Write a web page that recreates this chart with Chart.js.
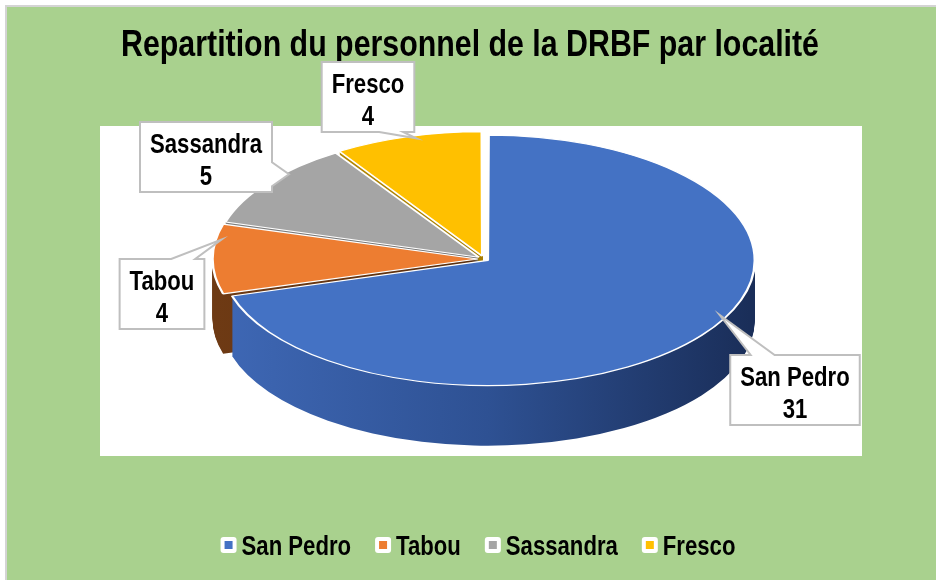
<!DOCTYPE html>
<html>
<head>
<meta charset="utf-8">
<script src="https://cdn.jsdelivr.net/npm/chart.js@4.4.0/dist/chart.umd.min.js"></script>
<style>
html,body{margin:0;padding:0;background:#ffffff;overflow:hidden;}
canvas{display:block;}
</style>
</head>
<body>
<canvas id="c" width="936" height="581"></canvas>
<script>
// ---- data ----
const TITLE = 'Repartition du personnel de la DRBF par localité';
const localites = ['San Pedro', 'Tabou', 'Sassandra', 'Fresco'];
const effectifs = [31, 4, 5, 4];

// ---- styles ----
const topColors = ['#4472C4', '#ED7D31', '#A5A5A5', '#FFC000'];
const sideColors = [
  ['#3E67B4', '#2E5193', '#1A2E59'],
  ['#6E3A14', '#5A2F0E', '#4A240A'],
  ['#808080', '#6E6E6E', '#5A5A5A'],
  ['#BF9000', '#A67C00', '#8A6700']
];
const explode = [12, 16, 16, 16];

// ---- layout ----
const FRAME = { x: 7, y: 7, w: 929, h: 573 };
const PLOT = { x: 100, y: 126, w: 762, h: 330 };
const PIE = { cx: 484, cy: 259, rx: 262, ry: 123, depth: 60 };
const tipFrac = [0.46, 0.78, 0.65, 0.55];
const boxCenters = [[795, 390], [162, 294], [206, 157], [368, 97]];
const BOX_H = 70, BOX_PAD = 10;
const FONT_SIZE = 27, TITLE_SIZE = 37;

// ---- font helpers ----
let NARROW = null;
function detectNarrow(ctx) {
  const s = 'Repartition abcdefghij';
  ctx.font = 'bold 40px monospace';
  const w0 = ctx.measureText(s).width;
  ctx.font = 'bold 40px "Liberation Sans Narrow", monospace';
  const w1 = ctx.measureText(s).width;
  return Math.abs(w1 - w0) > 0.5;
}
function fontStr(size) {
  return NARROW ? `bold ${size}px "Liberation Sans Narrow"` : `bold ${size}px "Liberation Sans", Arial, sans-serif`;
}
const SQUEEZE = () => (NARROW ? 1 : 0.82);
function textW(ctx, text, size) {
  ctx.save(); ctx.font = fontStr(size);
  const w = ctx.measureText(text).width * SQUEEZE();
  ctx.restore(); return w;
}
function drawText(ctx, text, x, y, size, align) {
  ctx.save();
  ctx.font = fontStr(size);
  ctx.fillStyle = '#000000';
  ctx.textBaseline = 'alphabetic';
  ctx.textAlign = align;
  ctx.translate(x, y);
  ctx.scale(SQUEEZE(), 1);
  ctx.fillText(text, 0, 0);
  ctx.restore();
}

function pieTransform(chart) {
  const arcs = chart.getDatasetMeta(0).data;
  const R = arcs[0].outerRadius;
  return { arcs, R, ox: arcs[0].x, oy: arcs[0].y, sx: PIE.rx / R, sy: PIE.ry / R };
}

const framePlugin = {
  id: 'frame',
  beforeDraw(chart) {
    const ctx = chart.ctx;
    if (NARROW === null) NARROW = detectNarrow(ctx);
    ctx.save();
    ctx.fillStyle = '#FFFFFF';
    ctx.fillRect(0, 0, chart.width, chart.height);
    ctx.fillStyle = '#D4D4D4';
    ctx.fillRect(FRAME.x - 2, FRAME.y - 2, FRAME.w + 2, 2);
    ctx.fillRect(FRAME.x - 2, FRAME.y - 2, 2, FRAME.h + 2);
    ctx.fillStyle = '#A9D18E';
    ctx.fillRect(FRAME.x, FRAME.y, FRAME.w, FRAME.h);
    ctx.fillStyle = '#FFFFFF';
    ctx.fillRect(PLOT.x, PLOT.y, PLOT.w, PLOT.h);
    ctx.restore();
  }
};

const pie3dPlugin = {
  id: 'pie3d',
  beforeDatasetsDraw(chart) {
    const ctx = chart.ctx;
    const { arcs, R, ox, oy, sx, sy } = pieTransform(chart);
    const apply = (dy) => {
      ctx.translate(PIE.cx, PIE.cy + dy);
      ctx.scale(sx, sy);
      ctx.translate(-ox, -oy);
    };
    const grads = sideColors.map(stops => {
      const g = ctx.createLinearGradient(ox - R, 0, ox + R, 0);
      stops.forEach((c, k) => g.addColorStop(k / (stops.length - 1), c));
      return g;
    });
    for (let d = PIE.depth; d >= 1; d--) {
      ctx.save();
      apply(d);
      arcs.forEach((arc, i) => {
        const saved = arc.options;
        arc.options = Object.assign({}, saved, { backgroundColor: grads[i], borderWidth: 0 });
        arc.draw(ctx);
        arc.options = saved;
      });
      ctx.restore();
    }
    ctx.save();
    apply(0);
    arcs.forEach(arc => arc.draw(ctx));
    ctx.restore();
    return false;
  }
};

function calloutPath(ctx, x, y, w, h, tx, ty) {
  const dl = x - tx, dr = tx - (x + w), dt = y - ty, db = ty - (y + h);
  const m = Math.max(dl, dr, dt, db);
  const side = m === dl ? 'left' : m === dr ? 'right' : m === dt ? 'top' : 'bottom';
  const hb = 12;
  const clamp = (v, a, b) => Math.max(a, Math.min(b, v));
  ctx.beginPath();
  ctx.moveTo(x, y);
  if (side === 'top') {
    const c = clamp(tx, x + w * 0.25, x + w * 0.75);
    ctx.lineTo(c - hb, y); ctx.lineTo(tx, ty); ctx.lineTo(c + hb, y);
  }
  ctx.lineTo(x + w, y);
  if (side === 'right') {
    const c = clamp(ty, y + h * 0.25, y + h * 0.75);
    ctx.lineTo(x + w, c - hb); ctx.lineTo(tx, ty); ctx.lineTo(x + w, c + hb);
  }
  ctx.lineTo(x + w, y + h);
  if (side === 'bottom') {
    const c = clamp(tx, x + w * 0.25, x + w * 0.75);
    ctx.lineTo(c + hb, y + h); ctx.lineTo(tx, ty); ctx.lineTo(c - hb, y + h);
  }
  ctx.lineTo(x, y + h);
  if (side === 'left') {
    const c = clamp(ty, y + h * 0.25, y + h * 0.75);
    ctx.lineTo(x, c + hb); ctx.lineTo(tx, ty); ctx.lineTo(x, c - hb);
  }
  ctx.closePath();
}

const textPlugin = {
  id: 'texts',
  afterDraw(chart) {
    const ctx = chart.ctx;
    // title
    drawText(ctx, TITLE, 470, 56, TITLE_SIZE, 'center');

    // callouts
    const { arcs, R, ox, oy, sx, sy } = pieTransform(chart);
    arcs.forEach((arc, i) => {
      const mid = (arc.startAngle + arc.endAngle) / 2;
      const ang = arc.startAngle + (arc.endAngle - arc.startAngle) * tipFrac[i];
      const t = (arc.options.offset || 0) / 4;
      const px = Math.cos(mid) * t + Math.cos(ang) * R * 0.99;
      const py = Math.sin(mid) * t + Math.sin(ang) * R * 0.99;
      const tx = PIE.cx + px * sx, ty = PIE.cy + py * sy;
      const l1 = localites[i], l2 = String(effectifs[i]);
      const w = Math.max(textW(ctx, l1, FONT_SIZE), textW(ctx, l2, FONT_SIZE)) + 2 * BOX_PAD;
      const [bcx, bcy] = boxCenters[i];
      const bx = bcx - w / 2, by = bcy - BOX_H / 2;
      ctx.save();
      calloutPath(ctx, bx, by, w, BOX_H, tx, ty);
      ctx.fillStyle = '#FFFFFF';
      ctx.fill();
      ctx.lineWidth = 2;
      ctx.strokeStyle = '#BFBFBF';
      ctx.lineJoin = 'miter';
      ctx.stroke();
      ctx.restore();
      drawText(ctx, l1, bcx, by + 31, FONT_SIZE, 'center');
      drawText(ctx, l2, bcx, by + 63, FONT_SIZE, 'center');
    });

    // legend
    const MK = 16, GAP_T = 5, GAP_I = 24;
    const widths = localites.map(l => MK + GAP_T + textW(ctx, l, FONT_SIZE));
    const total = widths.reduce((a, b) => a + b, 0) + GAP_I * (localites.length - 1);
    let x = 478 - total / 2;
    const ly = 545;
    localites.forEach((l, i) => {
      ctx.save();
      ctx.fillStyle = '#FFFFFF';
      ctx.beginPath();
      if (ctx.roundRect) ctx.roundRect(x, ly - MK / 2, MK, MK, 3); else ctx.rect(x, ly - MK / 2, MK, MK);
      ctx.fill();
      ctx.fillStyle = topColors[i];
      ctx.fillRect(x + 4, ly - 4, 8, 8);
      ctx.restore();
      drawText(ctx, l, x + MK + GAP_T, ly + 10, FONT_SIZE, 'left');
      x += widths[i] + GAP_I;
    });
  }
};

new Chart(document.getElementById('c'), {
  type: 'pie',
  data: {
    labels: localites,
    datasets: [{
      data: effectifs,
      backgroundColor: topColors,
      borderColor: '#FFFFFF',
      borderWidth: 1.5,
      offset: explode
    }]
  },
  options: {
    responsive: false,
    animation: false,
    events: [],
    layout: { padding: { top: 120, bottom: 120, left: 200, right: 200 } },
    plugins: {
      legend: { display: false },
      title: { display: false },
      tooltip: { enabled: false }
    }
  },
  plugins: [framePlugin, pie3dPlugin, textPlugin]
});
</script>
</body>
</html>
